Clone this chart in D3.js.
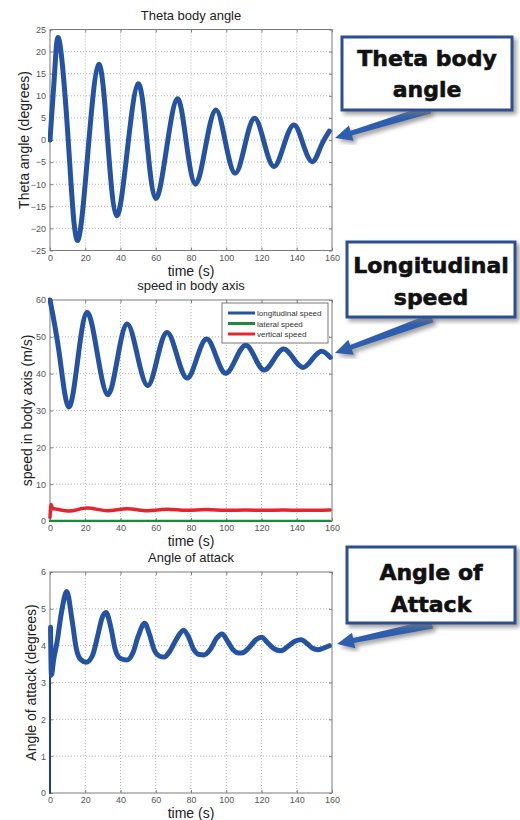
<!DOCTYPE html>
<html lang="en">
<head>
    <meta charset="UTF-8">
    <title>Flight response plots</title>
    <script src="https://d3js.org/d3.v7.min.js"></script>
    <style>
        body {
            margin: 0;
            padding: 0;
            background-color: white;
            font-family: 'Liberation Sans', Arial, sans-serif;
        }
        .grid line {
            stroke: #b0b0b0;
            stroke-width: 1px;
            stroke-dasharray: 1,2;
        }
        .axis path, .axis line {
            stroke: #808080;
        }
        .axis text {
            font-family: 'Liberation Sans Narrow', 'Arial Narrow', 'Liberation Sans', sans-serif;
            font-size: 9px;
            fill: #555;
        }
        .title, .xlabel, .ylabel {
            fill: #222;
            text-anchor: middle;
        }
        .callout text {
            font-family: 'DejaVu Sans', sans-serif;
            font-weight: bold;
            font-size: 22px;
            fill: #111;
            text-anchor: middle;
        }
    </style>
</head>
<body>
<script>
    // time axis ticks, shared by all three plots
    var timeTicks = [0, 20, 40, 60, 80, 100, 120, 140, 160];

    // Theta body angle (degrees)
    var thetaTime  = [0, 2.6, 5.2, 10.3, 15.4, 21.5, 27.6, 32.7, 37.8, 43.9, 50, 55, 60, 66.1, 72.2, 77.3, 82.5, 88.2, 94, 99.5, 105, 110.5, 116, 121.5, 127, 132.6, 138.3, 143.5, 148.8, 153.6, 158.5];
    var thetaValue = [0, 15, 22.6, 0.2, -22.7, -2.8, 17.1, 0, -17.1, -2.2, 12.7, -0.3, -13.2, -2, 9.3, -0.4, -10, -1.6, 6.8, -0.4, -7.5, -1.3, 4.9, -0.6, -6, -1.3, 3.4, -0.8, -4.9, -1.5, 2];
    var thetaTicks = [-25, -20, -15, -10, -5, 0, 5, 10, 15, 20, 25];

    // speed in body axis (m/s)
    var longTime  = [0, 5.25, 10.5, 15.75, 21, 26.85, 32.7, 38.2, 43.7, 49.5, 55.3, 60.8, 66.3, 72, 77.7, 83.25, 88.8, 94.2, 99.6, 105.3, 111, 116.25, 121.5, 127, 132.5, 138, 143.5, 148.75, 154, 159];
    var longValue = [60, 45.5, 31, 43.8, 56.6, 45.45, 34.3, 43.9, 53.5, 45.15, 36.8, 44, 51.2, 45, 38.8, 44.1, 49.4, 44.75, 40.1, 43.9, 47.7, 44.35, 41, 43.85, 46.7, 44.2, 41.7, 43.9, 46.1, 44.4];
    var latTime   = [0, 159];
    var latValue  = [0, 0];
    var vertTime  = [0, 0.6, 1.5, 4, 10.5, 21, 32.7, 43.7, 55.3, 66.3, 77.7, 88.8, 99.6, 111, 121.5, 132.5, 143.5, 159];
    var vertValue = [1, 4.5, 3.4, 3.2, 2.7, 3.5, 2.8, 3.3, 2.8, 3.2, 2.9, 3.1, 2.9, 3.0, 2.9, 3.0, 2.9, 3.0];
    var speedTicks = [0, 10, 20, 30, 40, 50, 60];

    // angle of attack (degrees): thin jump at t=0, then the oscillation
    var aoaJumpTime  = [0, 0];
    var aoaJumpValue = [0, 4.5];
    var aoaTime  = [0.3, 0.8, 2, 4, 6.5, 9.5, 12.5, 15, 17.5, 20.5, 24, 27, 29.5, 31.8, 34.5, 37, 40, 43.5, 47, 50, 53.7, 56.5, 59, 62, 64.8, 68, 72, 75.8, 78.5, 81.5, 84.5, 87.5, 91, 94.5, 97.7, 101, 104, 107, 109.5, 113, 117, 120, 123.5, 127, 131, 135, 139, 142.4, 146, 149, 152, 155, 158.5];
    var aoaValue = [4.5, 3.2, 3.6, 4.1, 4.9, 5.47, 4.7, 3.9, 3.62, 3.55, 3.72, 4.25, 4.75, 4.9, 4.5, 3.9, 3.65, 3.61, 3.8, 4.25, 4.61, 4.3, 3.9, 3.72, 3.69, 3.85, 4.2, 4.42, 4.25, 3.9, 3.76, 3.75, 3.9, 4.2, 4.32, 4.1, 3.88, 3.8, 3.81, 3.95, 4.17, 4.23, 4.08, 3.92, 3.86, 3.98, 4.12, 4.16, 4.05, 3.93, 3.89, 3.93, 4.0];
    var aoaTicks = [0, 1, 2, 3, 4, 5, 6];

    var legendLabels = ["longitudinal speed", "lateral speed", "vertical speed"];

    var blue = "#2553a3", green = "#1c8a3c", red = "#e4262c";

    var svg = d3.select("body").append("svg")
        .attr("width", 520)
        .attr("height", 820);

    var defs = svg.append("defs");
    defs.append("filter").attr("id", "shadow")
        .append("feDropShadow")
        .attr("dx", 3).attr("dy", 3).attr("stdDeviation", 2)
        .attr("flood-color", "#777").attr("flood-opacity", 0.7);

    function zip(ts, vs) {
        return ts.map(function(t, i) { return [t, vs[i]]; });
    }

    function drawPanel(cfg, idx) {
        var left = 50, right = 332, top = cfg.top, bottom = cfg.top + 221;
        var x = d3.scaleLinear().domain([0, 160]).range([left, right]);
        var y = d3.scaleLinear().domain(cfg.domain).range([bottom, top]);
        var g = svg.append("g");
        var fmt = d3.format("d");

        g.append("rect")
            .attr("x", left).attr("y", top)
            .attr("width", right - left).attr("height", bottom - top)
            .attr("fill", "white");

        // dotted grid
        var grid = g.append("g").attr("class", "grid");
        grid.selectAll(".gx").data(timeTicks.slice(1, -1)).enter().append("line")
            .attr("x1", function(d) { return x(d); }).attr("x2", function(d) { return x(d); })
            .attr("y1", top).attr("y2", bottom);
        grid.selectAll(".gy").data(cfg.ticks.slice(1, -1)).enter().append("line")
            .attr("x1", left).attr("x2", right)
            .attr("y1", function(d) { return y(d); }).attr("y2", function(d) { return y(d); });

        // axes, ticks inside like matlab
        g.append("g").attr("class", "axis")
            .attr("transform", "translate(0," + bottom + ")")
            .call(d3.axisBottom(x).tickValues(timeTicks).tickFormat(fmt).tickSize(-3).tickPadding(4).tickSizeOuter(0));
        g.append("g").attr("class", "axis")
            .attr("transform", "translate(0," + top + ")")
            .call(d3.axisTop(x).tickValues(timeTicks).tickSize(-3).tickFormat("").tickSizeOuter(0));
        g.append("g").attr("class", "axis")
            .attr("transform", "translate(" + left + ",0)")
            .call(d3.axisLeft(y).tickValues(cfg.ticks).tickFormat(fmt).tickSize(-3).tickPadding(4).tickSizeOuter(0));
        g.append("g").attr("class", "axis")
            .attr("transform", "translate(" + right + ",0)")
            .call(d3.axisRight(y).tickValues(cfg.ticks).tickSize(-3).tickFormat("").tickSizeOuter(0));

        g.selectAll(".axis .domain").remove();
        g.append("rect")
            .attr("x", left).attr("y", top)
            .attr("width", right - left).attr("height", bottom - top)
            .attr("fill", "none").attr("stroke", "#7a7a7a").attr("stroke-width", 1);

        // curves
        defs.append("clipPath").attr("id", "clip" + idx)
            .append("rect")
            .attr("x", left - 2).attr("y", top - 3)
            .attr("width", right - left + 4).attr("height", bottom - top + 4);

        var line = d3.line()
            .x(function(d) { return x(d[0]); })
            .y(function(d) { return y(d[1]); });

        cfg.series.forEach(function(s) {
            g.append("path")
                .attr("clip-path", "url(#clip" + idx + ")")
                .attr("d", line.curve(s.curve)(zip(s.t, s.v)))
                .attr("fill", "none")
                .attr("stroke", s.color)
                .attr("stroke-width", s.width)
                .attr("stroke-linejoin", "round")
                .attr("stroke-linecap", "round");
        });

        // labels
        g.append("text").attr("class", "title")
            .attr("x", 191).attr("y", top - 10)
            .style("font-size", "13px")
            .text(cfg.title);
        g.append("text").attr("class", "xlabel")
            .attr("x", 191).attr("y", bottom + 25)
            .style("font-size", "14px")
            .text("time (s)");
        g.append("text").attr("class", "ylabel")
            .attr("transform", "translate(" + cfg.ylabelX + "," + (top + bottom) / 2 + ") rotate(-90)")
            .style("font-size", "14px")
            .text(cfg.ylabel);

        return { x: x, y: y, g: g };
    }

    drawPanel({
        top: 29.5, domain: [-25, 25], ticks: thetaTicks,
        title: "Theta body angle", ylabel: "Theta angle (degrees)", ylabelX: 29,
        series: [{ t: thetaTime, v: thetaValue, color: blue, width: 5, curve: d3.curveNatural }]
    }, 1);

    drawPanel({
        top: 300, domain: [0, 60], ticks: speedTicks,
        title: "speed in body axis", ylabel: "speed in body axis (m/s)", ylabelX: 32,
        series: [
            { t: latTime, v: latValue, color: green, width: 2.5, curve: d3.curveLinear },
            { t: vertTime, v: vertValue, color: red, width: 3.5, curve: d3.curveMonotoneX },
            { t: longTime, v: longValue, color: blue, width: 5, curve: d3.curveNatural }
        ]
    }, 2);

    drawPanel({
        top: 572, domain: [0, 6], ticks: aoaTicks,
        title: "Angle of attack", ylabel: "Angle of attack (degrees)", ylabelX: 36,
        series: [
            { t: aoaJumpTime, v: aoaJumpValue, color: "#1f3f8a", width: 2, curve: d3.curveLinear },
            { t: aoaTime, v: aoaValue, color: blue, width: 5, curve: d3.curveMonotoneX }
        ]
    }, 3);

    // legend of the speed plot
    var legend = svg.append("g").attr("transform", "translate(222,303)");
    legend.append("rect")
        .attr("width", 106).attr("height", 40)
        .attr("fill", "white").attr("stroke", "#555").attr("stroke-width", 0.8);
    var legendColors = [blue, green, red];
    legendLabels.forEach(function(lab, i) {
        var ly = 10 + i * 10.5;
        legend.append("line")
            .attr("x1", 6).attr("x2", 33).attr("y1", ly).attr("y2", ly)
            .attr("stroke", legendColors[i]).attr("stroke-width", 3);
        legend.append("text")
            .attr("x", 35).attr("y", ly + 3)
            .style("font-family", "'Liberation Sans Narrow', 'Liberation Sans', sans-serif")
            .style("font-size", "8px").attr("fill", "#333")
            .text(lab);
    });

    // callout boxes with arrows
    var callouts = [
        { box: [342, 37, 170, 73], lines: ["Theta body", "angle"], base: [66, 97], tail: [430, 109], tip: [335, 138] },
        { box: [347, 242, 168, 75], lines: ["Longitudinal", "speed"], base: [273, 305], tail: [432, 318], tip: [335, 353] },
        { box: [347, 547, 168, 76], lines: ["Angle of", "Attack"], base: [580, 612], tail: [432, 624], tip: [337, 644] }
    ];

    function arrowPath(tail, tip) {
        var dx = tip[0] - tail[0], dy = tip[1] - tail[1];
        var len = Math.sqrt(dx * dx + dy * dy);
        var ux = dx / len, uy = dy / len, nx = -uy, ny = ux;
        var headLen = 17, headW = 8, shaftTail = 4.5, shaftHead = 2.5;
        var hx = tip[0] - ux * headLen, hy = tip[1] - uy * headLen;
        var pts = [
            [tail[0] + nx * shaftTail, tail[1] + ny * shaftTail],
            [hx + nx * shaftHead, hy + ny * shaftHead],
            [hx + nx * headW, hy + ny * headW],
            tip,
            [hx - nx * headW, hy - ny * headW],
            [hx - nx * shaftHead, hy - ny * shaftHead],
            [tail[0] - nx * shaftTail, tail[1] - ny * shaftTail]
        ];
        return "M" + pts.map(function(p) { return p[0] + "," + p[1]; }).join("L") + "Z";
    }

    var co = svg.selectAll(".callout").data(callouts).enter().append("g").attr("class", "callout");
    co.append("path")
        .attr("d", function(d) { return arrowPath(d.tail, d.tip); })
        .attr("fill", "#2f5fae")
        .attr("filter", "url(#shadow)");
    co.append("rect")
        .attr("x", function(d) { return d.box[0]; })
        .attr("y", function(d) { return d.box[1]; })
        .attr("width", function(d) { return d.box[2]; })
        .attr("height", function(d) { return d.box[3]; })
        .attr("fill", "white")
        .attr("stroke", "#2c4f92")
        .attr("stroke-width", 3)
        .attr("filter", "url(#shadow)");
    co.each(function(d) {
        var sel = d3.select(this);
        d.lines.forEach(function(txt, i) {
            sel.append("text")
                .attr("x", d.box[0] + d.box[2] / 2)
                .attr("y", d.base[i])
                .attr("stroke", "#111").attr("stroke-width", 0.6)
                .text(txt);
        });
    });
</script>
</body>
</html>
